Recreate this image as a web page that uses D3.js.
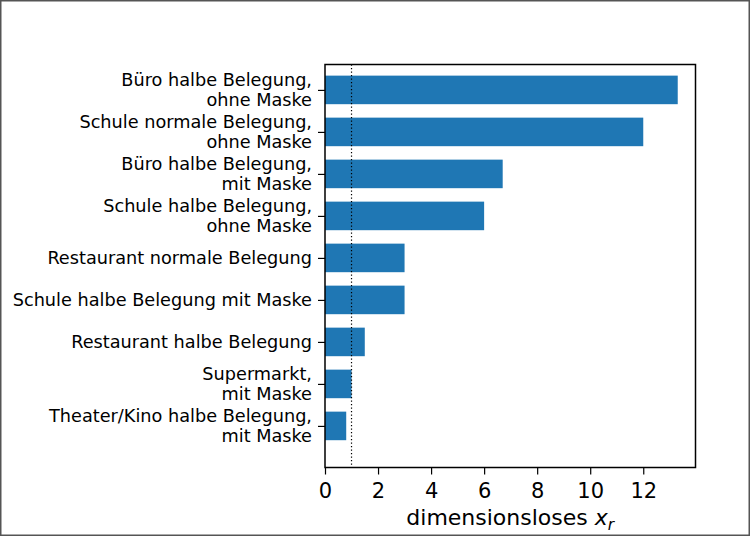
<!DOCTYPE html>
<html><head><meta charset="utf-8">
<script src="https://cdn.jsdelivr.net/npm/d3@7"></script>
<style>
html,body{margin:0;padding:0;background:#fff;}
svg{display:block;}
text{font-family:"DejaVu Sans",sans-serif;fill:#000;}
</style></head>
<body>
<svg id="chart" width="750" height="536"></svg>
<script>
const categories = [
  ["Büro halbe Belegung,", "ohne Maske"],
  ["Schule normale Belegung,", "ohne Maske"],
  ["Büro halbe Belegung,", "mit Maske"],
  ["Schule halbe Belegung,", "ohne Maske"],
  ["Restaurant normale Belegung"],
  ["Schule halbe Belegung mit Maske"],
  ["Restaurant halbe Belegung"],
  ["Supermarkt,", "mit Maske"],
  ["Theater/Kino halbe Belegung,", "mit Maske"]
];
const values = [13.3, 12.0, 6.7, 6.0, 3.0, 3.0, 1.5, 1.0, 0.8];
const xTicks = [0, 2, 4, 6, 8, 10, 12];
const referenceLine = 1;
const xLabel = "dimensionsloses ";
const xLabelVar = ["x", "r"];

const svg = d3.select("#chart");
const W = 750, H = 536;
const plot = {left: 325, right: 695.5, top: 64.5, bottom: 467.5};

// frame around the image
svg.append("rect").attr("x", 0.75).attr("y", 0.75).attr("width", W - 1.5).attr("height", H - 1.5)
  .attr("fill", "none").attr("stroke", "#555").attr("stroke-width", 1.5);

const x = d3.scaleLinear().domain([0, 13.97]).range([plot.left, plot.right]);
const y = d3.scaleLinear().domain([-0.605, 8.99]).range([plot.top, plot.bottom]);
const barH = 0.68;

const idx = d3.range(values.length);
svg.append("g").selectAll("rect").data(idx).join("rect")
  .attr("x", x(0))
  .attr("y", i => y(i - barH / 2))
  .attr("width", i => x(values[i]) - x(0))
  .attr("height", i => y(i + barH / 2) - y(i - barH / 2))
  .attr("fill", "#1f77b4");

// dotted reference line
svg.append("line")
  .attr("x1", x(referenceLine)).attr("x2", x(referenceLine))
  .attr("y1", plot.top).attr("y2", plot.bottom)
  .attr("stroke", "#000").attr("stroke-width", 1.2).attr("stroke-dasharray", "1.3,2.2");

// axes frame
svg.append("rect").attr("x", plot.left).attr("y", plot.top)
  .attr("width", plot.right - plot.left).attr("height", plot.bottom - plot.top)
  .attr("fill", "none").attr("stroke", "#000").attr("stroke-width", 1.5);

// x axis
const xAxis = d3.axisBottom(x).tickValues(xTicks).tickSize(7).tickPadding(4).tickFormat(d3.format("d"));
const gx = svg.append("g").attr("transform", `translate(0,${plot.bottom})`).call(xAxis);
gx.select(".domain").remove();
gx.selectAll(".tick line").attr("stroke", "#000").attr("stroke-width", 1.2);
gx.selectAll(".tick text").attr("font-size", 21).attr("font-family", "DejaVu Sans").attr("fill", "#000")
  .attr("dy", null).attr("y", 30.5);

// y axis
const yAxis = d3.axisLeft(y).tickValues(idx).tickSize(7).tickFormat("");
const gy = svg.append("g").attr("transform", `translate(${plot.left},0)`).call(yAxis);
gy.select(".domain").remove();
gy.selectAll(".tick line").attr("stroke", "#000").attr("stroke-width", 1.2);

const fs = 17.7, lh = 20;
const labels = svg.append("g");
idx.forEach(i => {
  const lines = categories[i];
  const n = lines.length;
  const t = labels.append("text")
    .attr("text-anchor", "end")
    .attr("font-size", fs)
    .attr("x", plot.left - 13);
  lines.forEach((ln, k) => {
    t.append("tspan").attr("x", plot.left - 13)
      .attr("y", y(i) + (k - (n - 1) / 2) * lh)
      .attr("dy", "0.35em")
      .text(ln);
  });
});

// x label
const xl = svg.append("text").attr("x", (plot.left + plot.right) / 2).attr("y", 525)
  .attr("text-anchor", "middle").attr("font-size", 22);
xl.append("tspan").text(xLabel);
xl.append("tspan").attr("font-style", "italic").text(xLabelVar[0]);
xl.append("tspan").attr("font-style", "italic").attr("font-size", 15.5).attr("dy", 4.5).text(xLabelVar[1]);
</script>
</body></html>
